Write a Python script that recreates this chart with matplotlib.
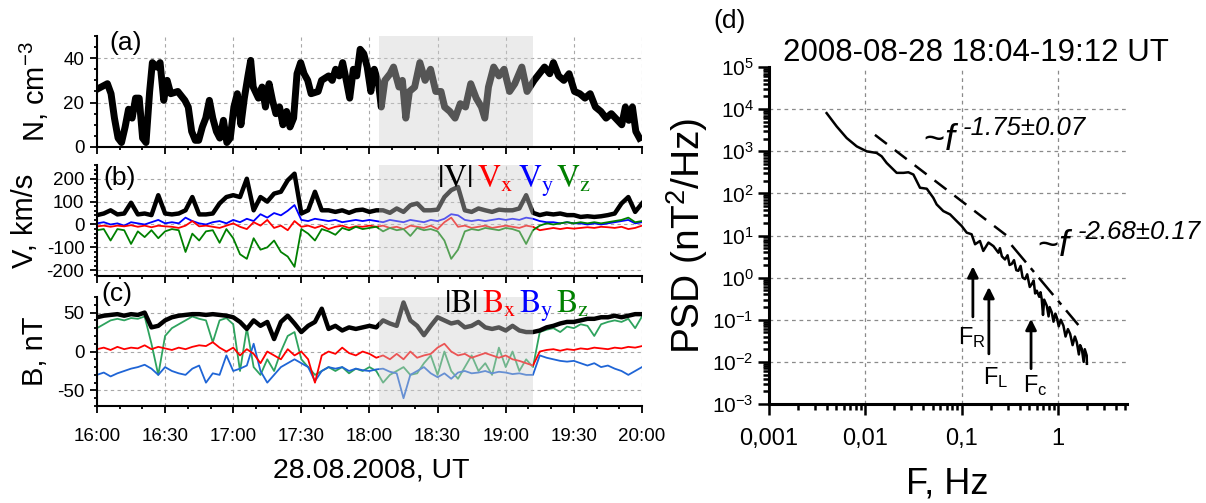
import numpy as np
import matplotlib
matplotlib.use('Agg')
import matplotlib.pyplot as plt
from matplotlib.ticker import MultipleLocator, FixedLocator, LogLocator, NullFormatter

plt.rcParams['font.family'] = ['Liberation Sans', 'DejaVu Sans']
plt.rcParams['mathtext.fontset'] = 'custom'
plt.rcParams['mathtext.rm'] = 'Liberation Sans'
plt.rcParams['mathtext.it'] = 'Liberation Sans:italic'
plt.rcParams['mathtext.bf'] = 'Liberation Sans:bold'
plt.rcParams['axes.unicode_minus'] = False

# ---- time axis (minutes after 16:00) ----
time_ticks = [0, 30, 60, 90, 120, 150, 180, 210, 240]
time_labels = ['16:00', '16:30', '17:00', '17:30', '18:00', '18:30', '19:00', '19:30', '20:00']
shade_start, shade_end = 124, 192   # 18:04 - 19:12

# (a) density
t_n = [0, 4.6, 6.2, 7.7, 9.3, 10.8, 12.4, 13.9, 15.5, 17.0, 18.6, 20.1, 21.6, 23.2, 24.4, 26.3,
       27.8, 29.4, 30.9, 32.5, 35.6, 38.7, 40.2, 41.7, 43.3, 44.8, 46.4, 47.9, 49.5, 51.0, 52.6,
       54.1, 55.7, 57.2, 58.7, 60.3, 61.8, 63.4, 64.9, 66.5, 67.7, 68.8, 71.1, 72.7, 74.2, 75.8,
       77.3, 78.8, 80.4, 81.9, 83.5, 85.0, 86.6, 88.1, 89.7, 91.2, 92.8, 94.3, 97.4, 98.9, 102.0,
       103.6, 105.1, 106.7, 108.2, 109.8, 111.3, 112.9, 114.4, 115.9, 117.5, 119.0, 120.6, 122.1,
       124.0, 125.2, 126.8, 129.1, 130.6, 133.0, 134.5, 136.0, 137.6, 139.9, 142.2, 144.5, 146.9,
       149.2, 151.5, 153.1, 155.4, 157.7, 160.0, 162.3, 164.6, 167.0, 169.3, 170.8, 172.4, 174.7,
       177.0, 179.3, 181.7, 184.0, 187.1, 189.4, 192.5, 194.8, 197.1, 199.4, 201.0, 203.3, 205.6,
       207.9, 210.3, 212.6, 214.9, 217.2, 219.5, 221.9, 224.2, 226.5, 228.8, 231.1, 232.7, 234.2,
       235.8, 237.3, 238.9]
n_dens = [26, 28.5, 24, 13, 4, 2, 9, 17, 13, 22, 22, 4, 2, 25, 38, 36,
          38, 21, 30, 24, 25, 21, 18, 7, 3, 3, 9, 13, 21, 13, 7,
          4, 12, 2, 4, 18, 24, 10, 22, 32, 39, 27, 22, 27, 18, 28.5,
          21, 15, 18, 10, 16, 9, 13, 33, 38, 33, 30, 24, 25, 30, 32,
          30, 35, 32, 38, 30, 22, 35, 32, 44, 42, 36, 25, 35,
          28.5, 18, 30, 33, 36, 27, 30, 13, 25, 27, 38, 30, 35,
          25, 25, 18, 16, 13, 19.5, 18, 28.5, 22, 18, 13, 27, 36,
          32, 35, 25, 28.5, 36, 25, 30, 33, 36, 33, 38, 32, 30,
          33, 25, 24, 22, 24, 18, 16, 13, 15, 12.5, 10, 18, 12,
          18, 7, 4]

# (b), (c) sampled every 3 minutes
t_vb = list(range(0, 241, 3))
v_mag = [41, 48, 62, 44, 48, 95, 44, 48, 41, 128, 48, 44, 48, 62, 120, 44, 44, 48, 92, 120,
         128, 120, 200, 62, 120, 100, 135, 143, 193, 222, 48, 62, 143, 62, 62, 55, 62, 51, 62, 65,
         55, 62, 62, 51, 70, 55, 84, 92, 62, 62, 65, 120, 150, 164, 62, 55, 70, 62, 55, 65,
         62, 62, 70, 128, 51, 41, 48, 44, 48, 41, 41, 33, 36, 33, 36, 41, 48, 92, 120, 55, 92]
v_x = [-8, -5, -10, -5, -8, -3, -10, -5, -12, -5, -8, -10, -15, -5, 15, -8, -5, -10, -15, -5,
       5, -10, -20, 10, -5, 20, -15, -5, -25, 15, -10, -5, -15, -5, -20, -10, -5, -15, -8, -10,
       -5, -10, -5, -15, -10, -20, -5, -10, -15, -5, -20, 10, 30, -10, -5, -15, -10, -5, -15, -10,
       -5, -10, -15, -5, -10, -25, -20, -15, -20, -15, -18, -15, -12, -15, -10, -12, -15, -10, -20, -15, -5]
v_y = [5, 10, 0, 5, -5, 10, 5, 0, 10, 20, 5, 10, 5, 30, 15, 5, 0, 10, 15, 5,
       20, 10, 25, 15, 45, 30, 50, 40, 60, 85, 20, 15, 25, 20, 15, 20, 10, 15, 20, 15,
       20, 15, 10, 20, 15, 10, 20, 15, 10, 20, 15, 25, 45, 40, 20, 15, 20, 15, 20, 25,
       20, 25, 20, 30, 25, 15, 10, 10, 5, 10, 5, 5, 0, 5, 0, 5, 10, 15, 20, 5, 10]
v_z = [-25, -20, -70, -20, -25, -85, -30, -55, -25, -60, -30, -20, -25, -120, -40, -70, -30, -25, -80, -20,
       -60, -130, -150, -60, -110, -100, -70, -120, -140, -185, -20, -40, -70, -20, -30, -45, -15, -25, -10, -20,
       -15, -10, -30, -15, -25, -20, -50, -15, -25, -20, -30, -70, -150, -110, -30, -20, -25, -15, -20, -25,
       -15, -20, -30, -85, -25, -5, 5, 0, 5, 10, 5, 10, 5, 10, 5, 10, 15, 20, 30, 10, 15]

b_mag = [44, 46, 47, 48, 46, 48, 47, 50, 31, 33, 40, 44, 46, 47, 48, 48, 47, 48, 47, 46,
         44, 38, 29, 40, 33, 38, 16, 38, 46, 36, 25, 33, 38, 55, 29, 33, 27, 31, 29, 31,
         33, 31, 40, 36, 33, 63, 40, 33, 21, 33, 44, 40, 36, 38, 31, 33, 38, 31, 29, 31,
         27, 33, 27, 25, 25, 27, 31, 33, 36, 38, 38, 40, 42, 42, 44, 44, 46, 44, 46, 48, 48]
b_x = [3, 5, 2, 6, 3, 5, 4, 8, 3, 6, 4, 2, 5, 3, 6, 8, 7, 12, 5, 0,
       5, -5, 3, -3, -15, 0, -5, -10, 3, -5, 0, -10, -40, -5, 0, -3, 5, -2, -5, 0,
       -3, -8, -5, -10, -3, -10, 0, -8, -5, -3, 5, 10, 0, -5, -3, -8, -5, -2, -5, -8,
       -5, -10, -12, -15, -18, 0, 2, 3, 1, 3, 2, 4, 3, 5, 4, 3, 5, 4, 6, 5, 7]
b_y = [-30, -27, -32, -28, -25, -22, -20, -17, -22, -30, -20, -25, -28, -30, -22, -18, -40, -28, -30, -5,
       -25, -22, -18, 10, -25, -40, -30, -20, -15, -10, -15, -20, -38, -25, -20, -22, -20, -25, -22, -24,
       -25, -23, -22, -26, -28, -60, -30, -25, -20, -28, -33, -28, -35, -27, -25, -28, -27, -25, -28, -26,
       -27, -29, -28, -30, -30, -5, -8, -10, -12, -13, -12, -15, -18, -15, -20, -18, -22, -25, -30, -25, -20]
b_z = [30, 35, 40, 42, 40, 43, 42, 45, 10, -30, 20, 30, 35, 40, 45, 42, 40, 12, 40, 43,
       35, -25, 30, -20, -30, -10, -25, 0, 20, 25, -10, -20, -30, -25, -20, -25, -20, -28, -22, -25,
       -20, -25, -40, -30, -25, -20, -30, -28, -15, -5, -30, 0, -25, -35, -20, -5, -25, -15, -30, 5,
       -20, 0, -25, -10, -20, 25, 28, 30, 25, 32, 30, 35, 33, 20, 35, 38, 40, 38, 42, 30, 45]

# (d) spectrum
freq = [0.00397, 0.00505, 0.00641, 0.00815, 0.01035, 0.01312, 0.0148, 0.01667, 0.0212, 0.0249,
        0.0280, 0.0316, 0.0370, 0.0435, 0.0508, 0.0551, 0.0646, 0.0759, 0.0889, 0.1002,
        0.113, 0.127, 0.138, 0.155, 0.168, 0.190, 0.214, 0.241, 0.25, 0.262,
        0.282, 0.30, 0.315, 0.331, 0.35, 0.37, 0.388, 0.41, 0.43, 0.456,
        0.48, 0.51, 0.535, 0.56, 0.58, 0.603, 0.64, 0.66, 0.679, 0.70,
        0.72, 0.766, 0.80, 0.82, 0.863, 0.90, 0.94, 0.973, 1.02, 1.07,
        1.14, 1.2, 1.27, 1.34, 1.42, 1.5, 1.57, 1.65, 1.7, 1.77,
        1.85, 1.9, 1.99, 2.0]
psd = [8035, 3882, 2061, 1306, 995, 912, 757, 528, 307, 307,
       317, 280, 136, 129, 78.7, 54.7, 38.0, 31.7, 22.0, 16.8,
       11.7, 10.7, 6.2, 7.4, 4.3, 6.8, 5.6, 3.9, 5.0, 3.2,
       2.7, 3.4, 2.0, 2.1, 2.6, 1.5, 1.45, 1.9, 1.0, 0.92,
       1.2, 0.6, 0.70, 0.85, 0.42, 0.49, 0.35, 0.45, 0.31, 0.13,
       0.30, 0.216, 0.12, 0.2, 0.15, 0.09, 0.14, 0.114, 0.07, 0.1,
       0.0726, 0.04, 0.06, 0.0461, 0.025, 0.04, 0.0294, 0.015, 0.025, 0.0204,
       0.01, 0.02, 0.0142, 0.009]
fit1_f, fit1_p = [0.0126, 0.30], [2450, 9.6]
fit2_f, fit2_p = [0.33, 1.63], [5.9, 0.075]
fit_texts = ['-1.75\u00b10.07', '-2.68\u00b10.17']
fit_tilde_f = [0.0398, 0.607]
fit_tilde_p = [1100, 3.2]
fit_exp_f = [0.1035, 1.62]
fit_exp_p = [2450, 8.1]
arrow_f = [0.131, 0.192, 0.526]
arrow_lo = [0.117, 0.0155, 0.0069]
arrow_hi = [1.86, 0.6, 0.105]
arrow_names = ['F$_\\mathrm{R}$', 'F$_\\mathrm{L}$', 'F$_\\mathrm{c}$']
arrow_lab_f = [0.0918, 0.1667, 0.4345]
arrow_lab_p = [0.0268, 0.00303, 0.00196]
psd_xticks = [0.001, 0.01, 0.1, 1]
psd_xlabels = ['0,001', '0,01', '0,1', '1']

fig = plt.figure(figsize=(12.06, 5.03), dpi=100)
ax_a = fig.add_axes([0.0804, 0.7078, 0.4519, 0.2207])
ax_b = fig.add_axes([0.0804, 0.4513, 0.4519, 0.2207])
ax_c = fig.add_axes([0.0804, 0.1928, 0.4519, 0.2167])
ax_d = fig.add_axes([0.6376, 0.1968, 0.2968, 0.670])


def style_left(ax, ylim, major, minor, show_x):
    ax.set_xlim(0, 240)
    ax.set_ylim(*ylim)
    ax.xaxis.set_major_locator(FixedLocator(time_ticks))
    ax.xaxis.set_minor_locator(MultipleLocator(10))
    ax.yaxis.set_major_locator(MultipleLocator(major))
    ax.yaxis.set_minor_locator(MultipleLocator(minor))
    for s in ['top', 'right']:
        ax.spines[s].set_visible(False)
    for s in ['left', 'bottom']:
        ax.spines[s].set_linewidth(1.5)
        ax.spines[s].set_zorder(6)
    ax.tick_params(which='both', direction='out', width=1.3, labelsize=13.5, pad=4)
    ax.tick_params(which='major', length=5)
    ax.tick_params(which='minor', length=2.5)
    if show_x:
        ax.set_xticklabels(time_labels)
        ax.tick_params(axis='x', pad=11)
    else:
        ax.set_xticklabels([])
    ax.grid(True, which='major', ls=(0, (3, 3)), color='#a8a8a8', lw=0.8)
    ax.axvspan(shade_start, shade_end, color='#cfcfcf', alpha=0.41, lw=0, zorder=3)


# (a)
ax_a.plot(t_n, n_dens, color='k', lw=5, solid_joinstyle='round')
style_left(ax_a, (0, 50), 20, 5, False)
ax_a.set_ylabel('N, cm$^{-3}$', fontsize=21)
ax_a.yaxis.set_label_coords(-0.084, 0.5)
ax_a.text(0.022, 0.94, '(a)', transform=ax_a.transAxes, fontsize=19, va='center', zorder=7)

# (b)
ax_b.plot(t_vb, v_mag, color='k', lw=3.2)
ax_b.plot(t_vb, v_y, color='#0000ff', lw=1.3)
ax_b.plot(t_vb, v_x, color='#ff0000', lw=1.3)
ax_b.plot(t_vb, v_z, color='#008000', lw=1.3)
style_left(ax_b, (-225, 260), 100, 20, False)
ax_b.set_ylabel('V, km/s', fontsize=21)
ax_b.yaxis.set_label_coords(-0.106, 0.5)
ax_b.text(0.011, 0.88, '(b)', transform=ax_b.transAxes, fontsize=19, va='center', zorder=7)
for xpos, lab, col in zip([0.624, 0.697, 0.772, 0.842],
                          [r'$|\mathrm{V}|$', r'$\mathrm{V_x}$', r'$\mathrm{V_y}$', r'$\mathrm{V_z}$'],
                          ['k', '#ff0000', '#0000ff', '#008000']):
    ax_b.text(xpos, 0.80, lab, transform=ax_b.transAxes, color=col, fontsize=23,
              math_fontfamily='stix', va='baseline', zorder=7)

# (c)
ax_c.plot(t_vb, b_z, color='#2ea35e', lw=1.3)
ax_c.plot(t_vb, b_y, color='#1f65d6', lw=1.3)
ax_c.plot(t_vb, b_x, color='#ff0000', lw=1.3)
ax_c.plot(t_vb, b_mag, color='k', lw=3.2)
style_left(ax_c, (-70, 70), 50, 10, True)
ax_c.set_ylabel('B, nT', fontsize=21)
ax_c.yaxis.set_label_coords(-0.088, 0.5)
ax_c.set_xlabel('28.08.2008, UT', fontsize=20.5)
ax_c.xaxis.set_label_coords(0.503, -0.47)
ax_c.text(0.009, 1.03, '(c)', transform=ax_c.transAxes, fontsize=19, va='center', zorder=7)
for xpos, lab, col in zip([0.636, 0.706, 0.774, 0.842],
                          [r'$|\mathrm{B}|$', r'$\mathrm{B_x}$', r'$\mathrm{B_y}$', r'$\mathrm{B_z}$'],
                          ['k', '#ff0000', '#0000ff', '#008000']):
    ax_c.text(xpos, 0.862, lab, transform=ax_c.transAxes, color=col, fontsize=23,
              math_fontfamily='stix', va='baseline', zorder=7)

# (d)
ax_d.set_xscale('log')
ax_d.set_yscale('log')
ax_d.set_xlim(1e-3, 5.2)
ax_d.set_ylim(1e-3, 1e5)
for v in [0.01, 0.1, 1]:
    ax_d.axvline(v, ls=(0, (3, 3)), color='#8a8a8a', lw=0.9, zorder=1)
for e in range(-2, 5):
    ax_d.axhline(10.0 ** e, ls=(0, (3, 3)), color='#8a8a8a', lw=0.9, zorder=1)
ax_d.plot(freq, psd, color='k', lw=1.8)
ax_d.plot(fit1_f, fit1_p, color='k', lw=1.8, ls=(0, (6, 4)))
ax_d.plot(fit2_f, fit2_p, color='k', lw=1.8, ls=(0, (9, 3, 2, 3)))
for f, lo, hi in zip(arrow_f, arrow_lo, arrow_hi):
    ax_d.annotate('', xy=(f, hi), xytext=(f, lo),
                  arrowprops=dict(arrowstyle='-|>', color='k', lw=2, mutation_scale=16,
                                  shrinkA=0, shrinkB=0))
for name, f, p in zip(arrow_names, arrow_lab_f, arrow_lab_p):
    ax_d.text(f, p, name, fontsize=17, ha='left', va='baseline')
for txt, tf, tp, ef, ep in zip(fit_texts, fit_tilde_f, fit_tilde_p, fit_exp_f, fit_exp_p):
    ax_d.text(tf, tp, r'~$\mathit{f}$', fontsize=26, ha='left', va='baseline')
    ax_d.text(ef, ep, txt, fontsize=18.5, fontstyle='italic', ha='left', va='baseline')

ax_d.xaxis.set_major_locator(FixedLocator(psd_xticks))
ax_d.set_xticklabels(psd_xlabels)
ax_d.xaxis.set_minor_locator(LogLocator(base=10, subs=range(2, 10), numticks=20))
ax_d.xaxis.set_minor_formatter(NullFormatter())
ytick_vals = [10.0 ** e for e in range(-3, 6)]
ax_d.yaxis.set_major_locator(FixedLocator(ytick_vals))
ax_d.set_yticklabels(['$10^{%d}$' % e for e in range(-3, 6)])
ax_d.yaxis.set_minor_locator(LogLocator(base=10, subs=range(2, 10), numticks=20))
ax_d.yaxis.set_minor_formatter(NullFormatter())
for s in ['top', 'right']:
    ax_d.spines[s].set_visible(False)
for s in ['left', 'bottom']:
    ax_d.spines[s].set_linewidth(2.2)
ax_d.tick_params(which='both', direction='out', width=1.8)
ax_d.tick_params(which='major', length=8)
ax_d.tick_params(which='minor', length=4)
ax_d.tick_params(axis='x', labelsize=17, pad=9)
ax_d.tick_params(axis='y', labelsize=15, pad=3)
ax_d.set_ylabel('PSD (nT$^2$/Hz)', fontsize=28)
ax_d.yaxis.set_label_coords(-0.165, 0.5)
ax_d.set_xlabel('F, Hz', fontsize=26)
ax_d.xaxis.set_label_coords(0.497, -0.184)

fig.text(0.605, 0.958, '(d)', fontsize=19, ha='center', va='center')
fig.text(0.809, 0.895, '2008-08-28 18:04-19:12 UT', fontsize=22.5, ha='center', va='center')

fig.savefig('out.png', dpi=100)
